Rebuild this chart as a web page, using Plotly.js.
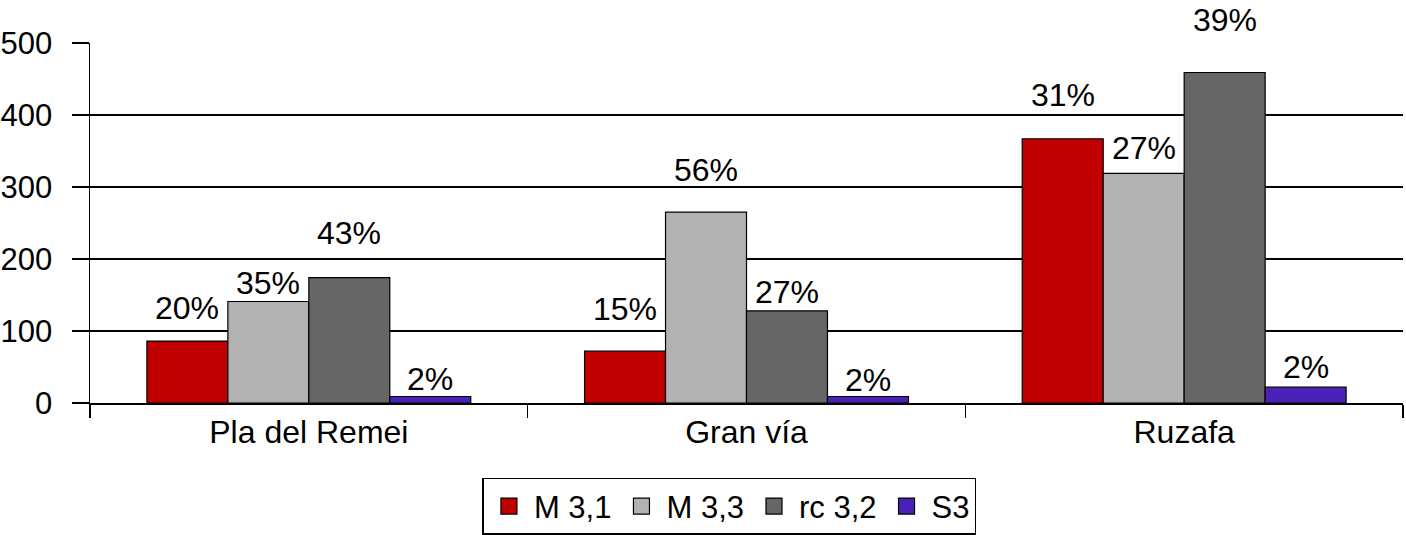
<!DOCTYPE html>
<html>
<head>
<meta charset="utf-8">
<script src="https://cdn.plot.ly/plotly-3.0.1.min.js"></script>
<style>
  html, body { margin: 0; padding: 0; background: #fff; }
  #plot1 { width: 1406px; height: 535px; }
</style>
</head>
<body>
<div id="plot1"></div>
<script>
// chart values
var barrios = ["Pla del Remei", "Gran vía", "Ruzafa"];
var seriesNames = ["M 3,1", "M 3,3", "rc 3,2", "S3"];

var m31 = [86, 72, 367];
var m33 = [141, 265, 319];
var rc32 = [174, 128, 459];
var s3 = [9, 9, 22];

var pct_m31 = [20, 15, 31];
var pct_m33 = [35, 56, 27];
var pct_rc32 = [43, 27, 39];
var pct_s3 = [2, 2, 2];

var colors = ["#C00000", "#B2B2B2", "#666666", "#4B22B8"];

var values = [m31, m33, rc32, s3];
var pcts = [pct_m31, pct_m33, pct_rc32, pct_s3];

// how far (px) each label sits above its bar, per series / barrio
var labelLift = [
  [33, 42, 44],
  [18, 42, 25],
  [45, 19, 53],
  [18, 17, 20]
];

var font = "Liberation Sans, Arial, sans-serif";

var data = [];
for (var i = 0; i < values.length; i++) {
  data.push({
    type: "bar",
    name: seriesNames[i],
    x: barrios,
    y: values[i],
    marker: { color: colors[i], line: { color: "#000", width: 1.2 } },
    showlegend: false,
    hoverinfo: "none"
  });
}
// legend entries only (bigger squares than the bar legend gives)
for (var i = 0; i < values.length; i++) {
  data.push({
    type: "scatter",
    mode: "markers",
    name: seriesNames[i],
    x: [null],
    y: [null],
    marker: { symbol: "square", size: 22, color: colors[i], line: { color: "#000", width: 1.2 } },
    hoverinfo: "none"
  });
}

var plotW = 1406 - 90 - 3;
var catW = plotW / barrios.length;
var bargap = 0.26;
var barW = catW * (1 - bargap) / values.length;

var annotations = [];
for (var i = 0; i < values.length; i++) {
  for (var j = 0; j < barrios.length; j++) {
    annotations.push({
      xref: "x", yref: "y",
      x: barrios[j], y: values[i][j],
      text: pcts[i][j] + "%",
      showarrow: false,
      xshift: (i - 1.5) * barW,
      yshift: labelLift[i][j],
      yanchor: "middle",
      font: { family: font, size: 32, color: "#000" }
    });
  }
}

var layout = {
  width: 1406,
  height: 535,
  margin: { l: 90, r: 3, t: 43, b: 132, autoexpand: false },
  paper_bgcolor: "#fff",
  plot_bgcolor: "#fff",
  font: { family: font, size: 32, color: "#000" },
  barmode: "group",
  bargap: bargap,
  bargroupgap: 0,
  showlegend: true,
  legend: {
    orientation: "h",
    x: 0.487, xanchor: "center",
    y: -0.208, yanchor: "top",
    bordercolor: "#000",
    borderwidth: 1.5,
    itemsizing: "trace",
    itemwidth: 40,
    tracegroupgap: 0,
    font: { family: font, size: 31, color: "#000" },
    traceorder: "normal"
  },
  xaxis: {
    type: "category",
    showline: true,
    linecolor: "#000",
    linewidth: 1.5,
    ticks: "outside",
    tickson: "boundaries",
    ticklen: 13,
    tickcolor: "#000",
    tickwidth: 1.5,
    showgrid: false,
    zeroline: false,
    fixedrange: true
  },
  yaxis: {
    range: [0, 500],
    dtick: 100,
    showline: true,
    linecolor: "#000",
    linewidth: 1.5,
    ticks: "outside",
    ticklen: 17,
    tickcolor: "#000",
    tickwidth: 1.5,
    tickfont: { family: font, size: 31, color: "#000" },
    showgrid: true,
    gridcolor: "#000",
    gridwidth: 1.5,
    zeroline: false,
    ticklabelstandoff: 13,
    fixedrange: true
  },
  annotations: annotations
};

Plotly.newPlot("plot1", data, layout, { displayModeBar: false, staticPlot: true });
</script>
</body>
</html>
